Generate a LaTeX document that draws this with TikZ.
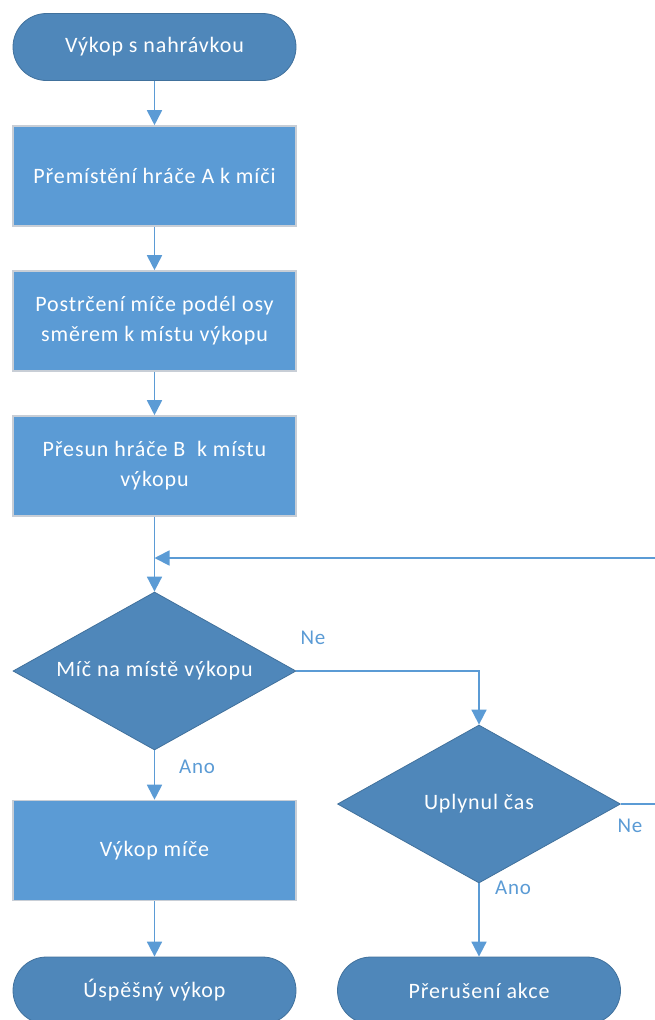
\documentclass[tikz,border=0pt]{standalone}
\usepackage{fontspec}
\setmainfont{Carlito}[LetterSpace=4]
\usetikzlibrary{shapes.geometric,arrows.meta}

\definecolor{termfill}{RGB}{79,135,186}
\definecolor{termline}{RGB}{65,113,156}
\definecolor{procfill}{RGB}{91,155,213}
\definecolor{procline}{RGB}{200,206,214}
\definecolor{flow}{RGB}{91,155,213}

\tikzset{
  every node/.style={font=\fontsize{22}{30}\selectfont, text=white, align=center},
  terminal/.style={rectangle, rounded corners=33.5pt, minimum width=283pt,
    minimum height=67pt, inner sep=0pt, fill=termfill, draw=termline, line width=0.8pt},
  process/.style={rectangle, minimum width=283pt, minimum height=100pt,
    inner sep=0pt, fill=procfill, draw=procline, line width=1.6pt},
  decision/.style={diamond, aspect=1.79, minimum width=283pt, minimum height=158pt,
    inner sep=0pt, fill=termfill, draw=termline, line width=0.8pt},
  flowline/.style={draw=flow, line width=1.8pt},
  arrowline/.style={flowline, -{Triangle[width=15pt,length=15pt]}},
  answer/.style={text=flow, font=\fontsize{21}{24}\selectfont}
}

\begin{document}
\begin{tikzpicture}[x=1pt, y=-1pt]
\useasboundingbox (0,0) rectangle (654,1020);

% main sequence
\node[terminal] (start) at (154.5,47) {Výkop s nahrávkou};
\node[process] (move) at (154.5,176) {Přemístění hráče A k míči};
\node[process] (push) at (154.5,321) {Postrčení míče podél osy\\směrem k místu výkopu};
\node[process] (run) at (154.5,466) {Přesun hráče B\ \ k místu\\výkopu};
\node[decision] (ready) at (154.5,671) {Míč na místě výkopu};
\node[process] (kick) at (154.5,850.5) {Výkop míče};
\node[terminal] (done) at (154.5,990.5) {Úspěšný výkop};

% timeout branch
\node[decision] (time) at (479,804) {Uplynul čas};
\node[terminal] (abort) at (479,990.5) {Přerušení akce};

% branch labels
\node[answer] (ne1) at (313,638) {Ne};
\node[answer] (ano1) at (197,767) {Ano};
\node[answer] (ne2) at (630,826) {Ne};
\node[answer] (ano2) at (513,888) {Ano};

% connectors
\draw[arrowline] (start) -- (move);
\draw[arrowline] (move) -- (push);
\draw[arrowline] (push) -- (run);
\draw[arrowline] (run) -- (ready.north);
\draw[arrowline] (ready.south) -- (kick);
\draw[arrowline] (kick) -- (done);
\draw[arrowline] (ready.east) -- (time.north |- ready.east) -- (time.north);
\draw[arrowline] (time.south) -- (abort);

% loop back when time has not run out
\coordinate (loopR) at (662,558);
\coordinate (merge) at (run.south |- loopR);
\draw[arrowline] (time.east) -- (loopR |- time.east) -- (loopR) -- (merge);
\end{tikzpicture}
\end{document}
